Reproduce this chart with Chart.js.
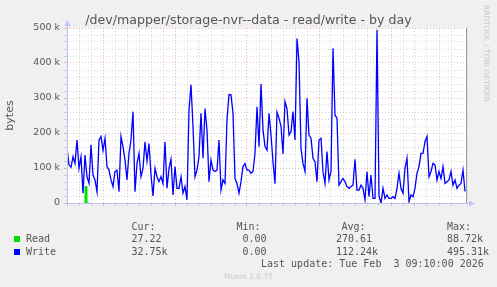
<!DOCTYPE html>
<html>
<head>
<meta charset="UTF-8">
<script src="https://cdn.jsdelivr.net/npm/chart.js"></script>
<style>
  body { margin: 0; background: #f0f0f0; width: 497px; height: 287px; overflow: hidden; position: relative; font-family: 'DejaVu Sans', sans-serif; }
  #chart { position: absolute; left: 0; top: 0; }
  .t { position: absolute; white-space: pre; color: #555; line-height: 12px; }
  .mono { font-family: 'DejaVu Sans Mono', monospace; font-size: 10px; }
  .sq { position: absolute; width: 6px; height: 6px; }
</style>
</head>
<body>
<canvas id="chart" width="497" height="287"></canvas>
<div id="legend"></div>
<script>
  // x axis: hours since Mon 00:00, one sample every 10 minutes
  const stepHours = 1 / 6;
  const xTickLabels = ['Mon 00:00', 'Mon 06:00', 'Mon 12:00', 'Mon 18:00', 'Tue 00:00', 'Tue 06:00'];
  const yTickLabels = ['0', '100 k', '200 k', '300 k', '400 k', '500 k'];

  // values in kbytes
  const writeValues = [
    156, 109, 102, 132, 113, 180, 99, 132, 28, 137, 75, 56, 166, 80, 66, 32, 180, 190, 150, 185,
    104, 94, 66, 47, 90, 94, 32, 190, 161, 123, 66, 142, 180, 261, 32, 113, 142, 75, 99, 175,
    120, 170, 80, 20, 99, 75, 61, 75, 56, 175, 42, 99, 125, 23, 104, 42, 42, 75, 28, 47,
    9, 266, 338, 218, 75, 94, 132, 256, 128, 270, 209, 61, 123, 94, 90, 94, 180, 37, 66, 56,
    237, 310, 309, 256, 70, 56, 28, 61, 104, 113, 94, 94, 85, 90, 142, 275, 161, 340, 209, 161,
    151, 256, 194, 118, 55, 260, 242, 220, 140, 290, 270, 194, 204, 261, 180, 470, 404, 156, 113, 90,
    299, 194, 185, 128, 118, 61, 180, 185, 90, 56, 147, 66, 90, 442, 251, 242, 51, 61, 70, 61,
    47, 42, 47, 51, 125, 37, 37, 51, 42, 9, 90, 18, 80, 13, 13, 495.31, 20, 0, 42, 13,
    23, 13, 13, 18, 13, 42, 85, 42, 28, 99, 128, 4, 23, 18, 42, 85, 104, 142, 142, 175,
    190, 75, 90, 113, 109, 66, 90, 70, 104, 56, 61, 66, 90, 51, 66, 42, 51, 56, 94, 32.75
  ];
  const readValues = [
    0, 0, 0, 0, 0, 0, 0, 0, 0, 0, 47, 0, 0, 0, 0, 0, 0, 0, 0, 0,
    0, 0, 0, 0, 0, 0, 0, 0, 0, 0, 0, 0, 0, 0, 0, 0, 0, 0, 0, 0,
    0, 0, 0, 0, 0, 0, 0, 0, 0, 0, 0, 0, 0, 0, 0, 0, 0, 0, 0, 0,
    0, 0, 0, 0, 0, 0, 0, 0, 0, 0, 0, 0, 0, 0, 0, 0, 0, 0, 0, 0,
    0, 0, 0, 0, 0, 0, 0, 0, 0, 0, 0, 0, 0, 0, 0, 0, 0, 0, 0, 0,
    0, 0, 0, 0, 0, 0, 0, 0, 0, 0, 0, 0, 0, 0, 0, 0, 0, 0, 0, 0,
    0, 0, 0, 0, 0, 0, 0, 0, 0, 0, 0, 0, 0, 0, 0, 0, 0, 0, 0, 0,
    0, 0, 0, 0, 0, 0, 0, 0, 0, 0, 0, 0, 0, 0, 0, 0, 0, 0, 0, 0,
    0, 0, 0, 0, 0, 0, 0, 0, 0, 0, 0, 0, 0, 0, 0, 0, 0, 0, 0, 0,
    0, 0, 0, 0, 0, 0, 0, 0, 0, 0, 0, 0, 0, 0, 0, 0, 0, 0, 0, 0
  ];

  const statHeads = ['Cur:', 'Min:', 'Avg:', 'Max:'];
  const readStats = ['27.22', '0.00', '270.61', '88.72k'];
  const writeStats = ['32.75k', '0.00', '112.24k', '495.31k'];

  const toPoints = vals => vals.map((v, i) => ({ x: i * stepHours, y: v * 1000 }));

  const majorGrid = 'rgba(225,140,140,0.6)';
  const minorGrid = 'rgba(185,185,185,0.6)';

  const frame = {
    id: 'frame',
    beforeDraw(c) {
      const { ctx, chartArea: a } = c;
      ctx.save();
      ctx.fillStyle = '#fff';
      ctx.fillRect(a.left, a.top, a.right - a.left, a.bottom - a.top);
      ctx.restore();
    },
    afterDatasetsDraw(c) {
      const { ctx, chartArea: a } = c;
      const l = Math.round(a.left) + 0.5, b = Math.round(a.bottom) + 0.5, r = Math.round(a.right);
      ctx.save();
      ctx.lineWidth = 1;
      ctx.strokeStyle = '#c0c0ec';
      ctx.beginPath();
      ctx.moveTo(l, b + 3); ctx.lineTo(l, a.top - 4);
      ctx.moveTo(l - 3, b); ctx.lineTo(r + 4, b);
      ctx.stroke();
      ctx.fillStyle = '#c4c4f4';
      ctx.beginPath();
      ctx.moveTo(l, a.top - 8); ctx.lineTo(l - 3, a.top - 2); ctx.lineTo(l + 3, a.top - 2);
      ctx.fill();
      ctx.beginPath();
      ctx.moveTo(r + 8, b); ctx.lineTo(r + 2, b - 3); ctx.lineTo(r + 2, b + 3);
      ctx.fill();
      ctx.strokeStyle = '#999';
      ctx.beginPath();
      ctx.moveTo(r - 0.5, a.top); ctx.lineTo(r - 0.5, a.bottom);
      ctx.stroke();
      ctx.restore();
    }
  };

  // hide the flat zero stretches of the read line, munin's axis covers them
  const hideFlatZero = ctx => (ctx.p0.parsed.y === 0 && ctx.p1.parsed.y === 0) ? 'rgba(0,0,0,0)' : undefined;

  Chart.defaults.font.family = "'DejaVu Sans', sans-serif";
  Chart.defaults.font.size = 9.5;
  Chart.defaults.color = '#555';

  new Chart(document.getElementById('chart'), {
    type: 'line',
    data: {
      datasets: [
        {
          label: 'Read', data: toPoints(readValues),
          borderColor: '#00e000', backgroundColor: '#00e000', borderWidth: 1,
          pointRadius: 0, stepped: 'after', fill: 'origin',
          segment: { borderColor: hideFlatZero }
        },
        {
          label: 'Write', data: toPoints(writeValues),
          borderColor: '#0000ff', borderWidth: 1.3, pointRadius: 0, tension: 0, fill: false
        }
      ]
    },
    options: {
      responsive: false,
      animation: false,
      devicePixelRatio: 1,
      layout: { padding: { left: 0, right: 30, top: 28, bottom: 84 } },
      plugins: { legend: { display: false }, tooltip: { enabled: false }, title: { display: false } },
      scales: {
        x: {
          type: 'linear', min: 0, max: 100 / 3,
          afterFit: s => { s.height = 0; },
          border: { display: false, dash: [1, 2] },
          grid: {
            color: ctx => (Number.isInteger(ctx.tick.value) && ctx.tick.value % 6 === 3) ? majorGrid : minorGrid,
            tickLength: 3, tickBorderDash: []
          },
          ticks: {
            stepSize: 1, autoSkip: false, maxRotation: 0, padding: 2,
            callback: v => (Number.isInteger(v) && v % 6 === 0) ? xTickLabels[v / 6] : ''
          }
        },
        y: {
          min: 0, max: 500000,
          afterFit: s => { s.width = 67; },
          border: { display: false, dash: [1, 2] },
          title: { display: true, text: 'bytes', font: { size: 11 }, color: '#555', padding: { top: 4, bottom: 4 } },
          grid: {
            color: ctx => ctx.tick.value % 100000 === 0 ? majorGrid : minorGrid,
            tickLength: 3
          },
          ticks: {
            stepSize: 20000, autoSkip: false, padding: 4,
            callback: v => v % 100000 === 0 ? yTickLabels[v / 100000] : ''
          }
        }
      }
    },
    plugins: [frame]
  });

  // legend block under the plot, positioned like the munin png
  const legend = document.getElementById('legend');
  const add = (text, left, top, cls, extra) => {
    const d = document.createElement('div');
    d.className = 't ' + (cls || '');
    d.textContent = text;
    d.style.left = left + 'px';
    d.style.top = top + 'px';
    if (extra) Object.assign(d.style, extra);
    legend.appendChild(d);
    return d;
  };
  const cols = [131.5, 236.5, 341.5, 447];
  const valCols = [131.5, 242.5, 336, 447];
  statHeads.forEach((h, i) => add(h, cols[i], 220.5, 'mono'));
  [['Read', '#00e000', readStats, 233], ['Write', '#0000ff', writeStats, 245.5]].forEach(([name, col, stats, top]) => {
    const sq = document.createElement('div');
    sq.className = 'sq';
    sq.style.left = '14px';
    sq.style.top = (top + 3) + 'px';
    sq.style.background = col;
    legend.appendChild(sq);
    add(name, 26, top, 'mono');
    stats.forEach((s, i) => add(s, valCols[i], top, 'mono'));
  });
  add('Last update: Tue Feb  3 09:10:00 2026', 261, 257.5, 'mono');
  add('/dev/mapper/storage-nvr--data - read/write - by day', 0, 12, '', { width: '497px', textAlign: 'center', fontSize: '12.6px', lineHeight: '15px' });
  add('Munin 2.0.75', 0, 271, '', { width: '497px', textAlign: 'center', fontSize: '7.5px', color: '#c8c8c8', left: '0px' });
  add('RRDTOOL / TOBI OETIKER', 491, 5, '', { fontSize: '7.5px', color: '#c8c8c8', transform: 'rotate(90deg)', transformOrigin: '0 0', lineHeight: '9px' });
</script>
</body>
</html>
